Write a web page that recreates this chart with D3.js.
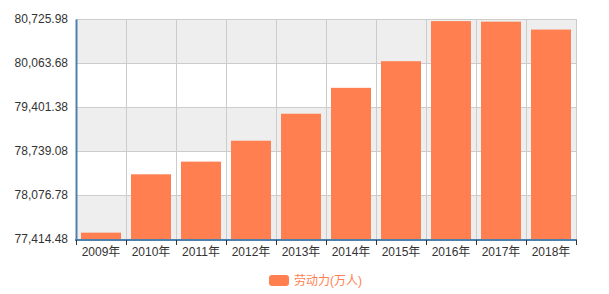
<!DOCTYPE html>
<html><head><meta charset="utf-8">
<script src="https://cdn.jsdelivr.net/npm/d3@7/dist/d3.min.js"></script>
<style>body{margin:0;background:#fff;} svg{display:block;}</style>
</head><body>
<svg id="c" width="609" height="294"></svg>
<script>
const categories = ["2009年","2010年","2011年","2012年","2013年","2014年","2015年","2016年","2017年","2018年"];
const values = [77510, 78388, 78579, 78894, 79300, 79690, 80091, 80694, 80686, 80567];
const yTicks = [77414.48, 78076.78, 78739.08, 79401.38, 80063.68, 80725.98];
const seriesName = "劳动力(万人)";

const svg = d3.select("#c");
const L = 76, R = 576, T = 19, B = 239;
const font = "'Liberation Sans', Arial, 'Noto Sans CJK SC', sans-serif";
const x = d3.scaleBand().domain(categories).range([L, R]).paddingInner(0.2).paddingOuter(0.1);
const y = d3.scaleLinear().domain([yTicks[0], yTicks[yTicks.length-1]]).range([B, T]);
const fmt = d3.format(",.2f");

// split areas
for (let i = 0; i < yTicks.length - 1; i++) {
  svg.append("rect").attr("x", L).attr("width", R - L)
    .attr("y", y(yTicks[i+1])).attr("height", y(yTicks[i]) - y(yTicks[i+1]))
    .attr("fill", (yTicks.length - 2 - i) % 2 === 0 ? "#eeeeee" : "#ffffff");
}
// horizontal grid
svg.append("g").selectAll("line").data(yTicks).join("line")
  .attr("x1", L).attr("x2", R).attr("y1", d => Math.round(y(d)) + 0.5).attr("y2", d => Math.round(y(d)) + 0.5)
  .attr("stroke", "#cccccc").attr("stroke-width", 1);
// vertical grid
const bounds = categories.map((c, i) => L + i * (R - L) / categories.length).concat([R]);
svg.append("g").selectAll("line").data(bounds).join("line")
  .attr("x1", d => d + 0.5).attr("x2", d => d + 0.5).attr("y1", T).attr("y2", B)
  .attr("stroke", "#cccccc").attr("stroke-width", 1);

// bars
svg.append("g").selectAll("rect").data(values).join("rect")
  .attr("x", (d, i) => x(categories[i])).attr("width", x.bandwidth())
  .attr("y", d => y(d)).attr("height", d => B - y(d))
  .attr("fill", "#ff7f50");

// y axis
const yAxis = d3.axisLeft(y).tickValues(yTicks).tickFormat(fmt).tickSize(0).tickPadding(8);
const gy = svg.append("g").attr("transform", `translate(${L},0)`).call(yAxis);
gy.select(".domain").attr("stroke", "#4f80ab").attr("stroke-width", 2);
gy.selectAll("text").attr("font-family", font).attr("font-size", 12).attr("fill", "#333");

// x axis
const xb = d3.scaleOrdinal().domain(categories).range(categories.map((c, i) => L + (i + 0.5) * (R - L) / categories.length));
const gx = svg.append("g").attr("transform", `translate(0,${B + 1})`);
gx.append("line").attr("x1", L - 1).attr("x2", R + 1).attr("y1", 0).attr("y2", 0)
  .attr("stroke", "#4f80ab").attr("stroke-width", 2);
gx.selectAll(".tk").data(bounds).join("line").attr("class", "tk")
  .attr("x1", d => d + 0.5).attr("x2", d => d + 0.5).attr("y1", 0).attr("y2", 5)
  .attr("stroke", "#333").attr("stroke-width", 1);
gx.selectAll("text").data(categories).join("text")
  .attr("x", d => xb(d)).attr("y", 12).attr("dy", "0.35em")
  .attr("text-anchor", "middle").attr("font-family", font).attr("font-size", 12).attr("fill", "#333")
  .text(d => d);

// legend
const lg = svg.append("g");
lg.append("rect").attr("x", 269).attr("y", 275).attr("width", 20).attr("height", 11).attr("rx", 3)
  .attr("fill", "#ff7f50");
lg.append("text").attr("x", 294).attr("y", 280.5).attr("dy", "0.35em")
  .attr("font-family", font).attr("font-size", 12).attr("fill", "#ff7f50").text(seriesName);
</script>
</body></html>
